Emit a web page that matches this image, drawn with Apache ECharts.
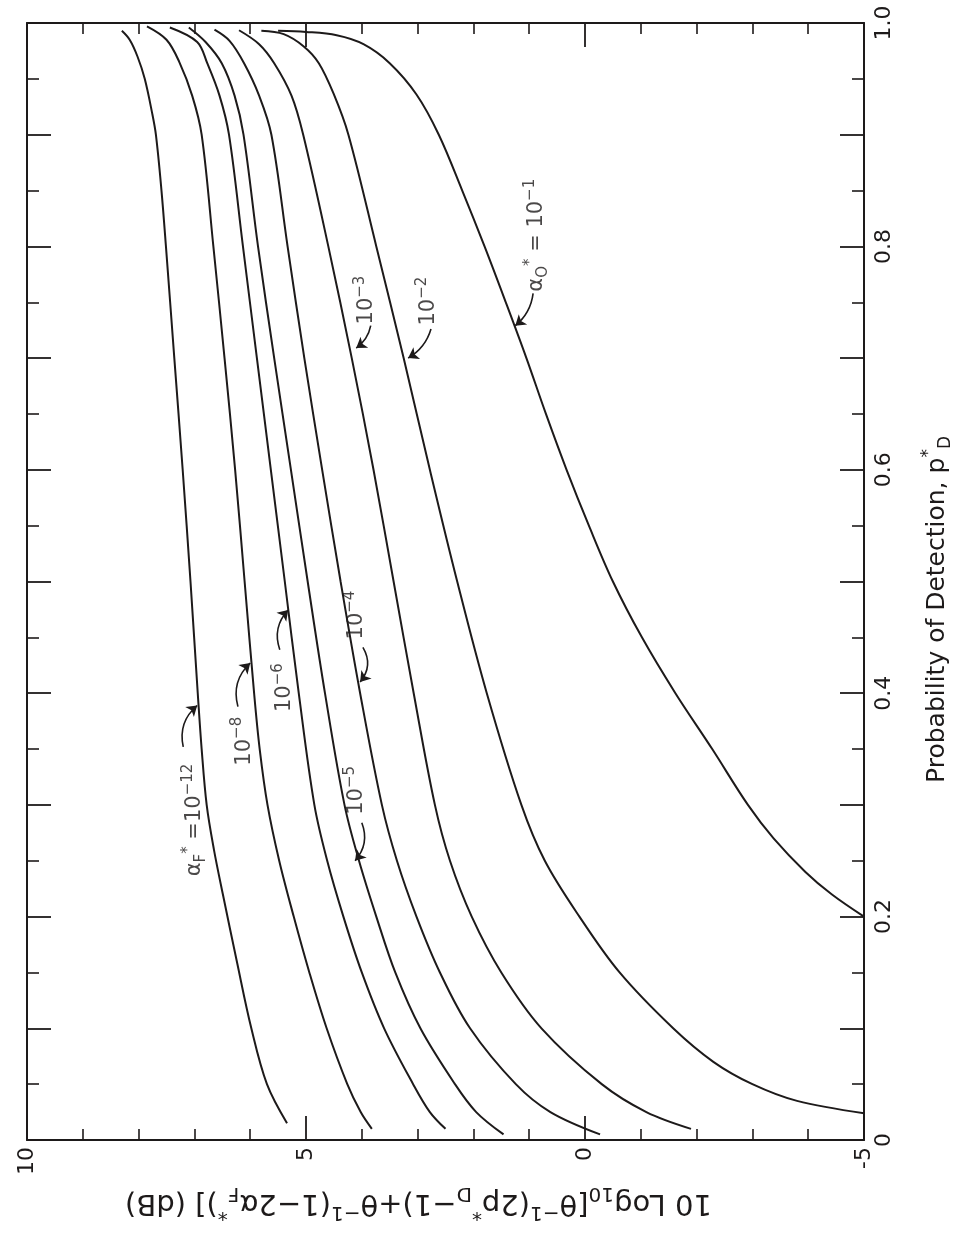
<!DOCTYPE html>
<html>
<head>
<meta charset="utf-8">
<script src="https://cdn.jsdelivr.net/npm/echarts@6/dist/echarts.min.js"></script>
<style>
  html, body { margin: 0; padding: 0; background: #fff; }
  #main { width: 969px; height: 1240px; }
</style>
</head>
<body>
<div id="main"></div>
<script>
// each curve: [pD*, dB], one per alpha value
const curveF12 = [[0.993, 8.30], [0.985, 8.16], [0.97, 8.02], [0.95, 7.89], [0.92, 7.76], [0.9, 7.69], [0.85, 7.59], [0.8, 7.51], [0.7, 7.36], [0.6, 7.21], [0.5, 7.07], [0.4, 6.94], [0.35, 6.87], [0.3, 6.78], [0.26, 6.65], [0.22, 6.49], [0.16, 6.24], [0.1, 5.98], [0.05, 5.7], [0.015, 5.34]]
const curveF8 = [[0.997, 7.85], [0.985, 7.5], [0.965, 7.27], [0.935, 7.04], [0.9, 6.87], [0.8, 6.66], [0.7, 6.46], [0.6, 6.27], [0.5, 6.1], [0.4, 5.93], [0.35, 5.83], [0.3, 5.69], [0.25, 5.48], [0.2, 5.22], [0.15, 4.94], [0.1, 4.63], [0.05, 4.26], [0.025, 4.02], [0.01, 3.82]]
const curveF6 = [[0.996, 7.44], [0.983, 6.95], [0.964, 6.77], [0.935, 6.55], [0.9, 6.38], [0.8, 6.13], [0.7, 5.88], [0.6, 5.63], [0.5, 5.38], [0.4, 5.13], [0.3, 4.85], [0.25, 4.62], [0.2, 4.33], [0.15, 4.0], [0.1, 3.6], [0.05, 3.08], [0.025, 2.78], [0.01, 2.5]]
const curveF5 = [[0.996, 7.1], [0.983, 6.8], [0.964, 6.51], [0.935, 6.28], [0.9, 6.12], [0.8, 5.86], [0.7, 5.57], [0.6, 5.27], [0.5, 4.97], [0.4, 4.66], [0.3, 4.31], [0.25, 4.05], [0.2, 3.74], [0.15, 3.4], [0.1, 2.95], [0.05, 2.33], [0.025, 1.95], [0.005, 1.46]]
const curveF4 = [[0.994, 6.64], [0.984, 6.37], [0.964, 6.11], [0.935, 5.84], [0.9, 5.62], [0.8, 5.33], [0.7, 5.03], [0.6, 4.71], [0.5, 4.38], [0.4, 4.03], [0.3, 3.64], [0.25, 3.37], [0.2, 3.02], [0.15, 2.6], [0.1, 2.06], [0.05, 1.24], [0.025, 0.62], [0.005, -0.27]]
const curveF3 = [[0.9935, 6.2], [0.981, 5.84], [0.964, 5.57], [0.935, 5.26], [0.9, 5.05], [0.8, 4.6], [0.7, 4.18], [0.6, 3.79], [0.5, 3.43], [0.4, 3.07], [0.3, 2.69], [0.25, 2.42], [0.2, 2.03], [0.15, 1.5], [0.1, 0.78], [0.05, -0.3], [0.025, -1.1], [0.01, -1.9]]
const curveF2 = [[0.993, 5.8], [0.99, 5.4], [0.979, 5.04], [0.964, 4.77], [0.936, 4.5], [0.9, 4.24], [0.8, 3.74], [0.7, 3.25], [0.6, 2.78], [0.5, 2.29], [0.4, 1.76], [0.3, 1.14], [0.25, 0.72], [0.2, 0.1], [0.15, -0.62], [0.1, -1.58], [0.07, -2.3], [0.05, -3.0], [0.035, -3.8], [0.024, -5]]
const curveF1 = [[0.993, 5.5], [0.992, 5.0], [0.989, 4.45], [0.981, 3.97], [0.964, 3.5], [0.936, 3.02], [0.9, 2.62], [0.85, 2.2], [0.8, 1.8], [0.75, 1.42], [0.7, 1.05], [0.65, 0.7], [0.6, 0.33], [0.55, -0.07], [0.5, -0.5], [0.45, -1.02], [0.4, -1.62], [0.35, -2.28], [0.3, -2.92], [0.27, -3.38], [0.24, -3.95], [0.22, -4.42], [0.2, -5]]

const curves = [curveF12, curveF8, curveF6, curveF5, curveF4, curveF3, curveF2, curveF1]

// tick labels
const dbTicks = [10, 5, 0, -5]
const pdTicks = ['0', '0.2', '0.4', '0.6', '0.8', '1.0']

// curve labels, anchored in data space [dB, pD]
const notePos = [[6.99, 0.2865], [6.11, 0.357], [5.38, 0.405], [4.09, 0.47], [4.09, 0.313], [3.91, 0.752], [2.81, 0.751], [0.86, 0.81]]
const noteText = [
  '{n|α}{sb|F}{sp|*}{n| =10}{sp|−12}',
  '{n|10}{sp|−8}',
  '{n|10}{sp|−6}',
  '{n|10}{sp|−4}',
  '{n|10}{sp|−5}',
  '{n|10}{sp|−3}',
  '{n|10}{sp|−2}',
  '{n|α}{sb|O}{sp|*}{n| = 10}{sp|−1}'
]
const arrowFrom = [[7.2, 0.352], [6.22, 0.388], [5.47, 0.439], [3.98, 0.441], [4.0, 0.284], [3.84, 0.729], [2.76, 0.726], [0.93, 0.758]]
const arrowTo = [[6.95, 0.389], [6.0, 0.427], [5.32, 0.4745], [4.03, 0.41], [4.12, 0.25], [4.1, 0.709], [3.17, 0.7], [1.25, 0.729]]
const arrowBend = [0.3, 0.3, 0.3, 0.35, 0.3, 0.2, 0.2, 0.2]

const ink = '#1d1a1a'
const font = '"DejaVu Sans", "Liberation Sans", sans-serif'

function richSet(size, small) {
  return {
    n: { fontSize: size, fontFamily: font, color: ink, lineHeight: Math.round(size * 1.35) },
    sp: { fontSize: small, fontFamily: font, color: ink, lineHeight: small, verticalAlign: 'top' },
    sb: { fontSize: small, fontFamily: font, color: ink, lineHeight: small, verticalAlign: 'bottom' }
  }
}

function dbAxis(pos, withLabels) {
  return {
    type: 'value',
    position: pos,
    min: -5,
    max: 10,
    interval: 5,
    inverse: true,
    axisLine: { show: true, onZero: false, lineStyle: { color: ink, width: 2 } },
    axisTick: { show: true, inside: true, length: 24, lineStyle: { color: ink, width: 1.8 } },
    minorTick: { show: true, splitNumber: 5, length: 11, lineStyle: { color: ink, width: 1.6 } },
    splitLine: { show: false },
    minorSplitLine: { show: false },
    axisLabel: {
      show: withLabels,
      rotate: 90,
      margin: 7,
      fontSize: 22,
      fontFamily: font,
      color: ink,
      formatter: v => (dbTicks.includes(v) ? String(v) : '')
    }
  }
}

function pdAxis(pos, withLabels) {
  return {
    type: 'value',
    position: pos,
    min: 0,
    max: 1,
    interval: 0.1,
    axisLine: { show: true, onZero: false, lineStyle: { color: ink, width: 2 } },
    axisTick: { show: true, inside: true, length: 24, lineStyle: { color: ink, width: 1.8 } },
    minorTick: { show: true, splitNumber: 2, length: 12, lineStyle: { color: ink, width: 1.6 } },
    splitLine: { show: false },
    minorSplitLine: { show: false },
    axisLabel: {
      show: withLabels,
      rotate: 90,
      margin: 9,
      fontSize: 22,
      fontFamily: font,
      color: ink,
      formatter: v => {
        const k = Math.round(v * 10)
        return k % 2 === 0 ? pdTicks[k / 2] : ''
      }
    }
  }
}

const xMain = dbAxis('bottom', true)
xMain.name = '{n|10 Log}{sb|10}{n|[θ}{sp|−1}{n|(2p}{sp|*}{sb|D}{n|−1)+θ}{sp|−1}{n|(1−2α}{sb|F}{sp|*}{n|)] (dB)}'
xMain.nameLocation = 'middle'
xMain.nameRotate = 180
xMain.nameGap = 40
xMain.nameTextStyle = { rich: richSet(29, 20), padding: [0, 0, 0, 54] }

const yMain = pdAxis('right', true)
yMain.name = '{n|Probability of Detection, p}{sp|*}{sb|D}'
yMain.nameLocation = 'middle'
yMain.nameRotate = 90
yMain.nameGap = 56
yMain.nameTextStyle = { rich: richSet(25, 17), padding: [0, 56, 0, 0] }

const series = curves.map(c => ({
  type: 'line',
  xAxisIndex: 0,
  yAxisIndex: 0,
  data: c.map(p => [p[1], p[0]]),
  symbol: 'none',
  smooth: 0.35,
  lineStyle: { color: ink, width: 2 },
  silent: true
}))

// curve labels
series.push({
  type: 'scatter',
  xAxisIndex: 0,
  yAxisIndex: 0,
  symbolSize: 1,
  itemStyle: { color: 'rgba(0,0,0,0)' },
  silent: true,
  data: notePos.map((p, i) => ({
    value: p,
    label: { formatter: noteText[i] }
  })),
  label: {
    show: true,
    position: 'inside',
    rotate: 90,
    align: 'center',
    verticalAlign: 'middle',
    rich: richSet(21, 15)
  },
  labelLayout: { hideOverlap: false }
})

// arrows from labels to curves
series.push({
  type: 'lines',
  coordinateSystem: 'cartesian2d',
  xAxisIndex: 0,
  yAxisIndex: 0,
  silent: true,
  symbol: ['none', 'arrow'],
  symbolSize: 10,
  lineStyle: { color: ink, width: 1.6, opacity: 1 },
  data: arrowFrom.map((a, i) => ({
    coords: [a, arrowTo[i]],
    lineStyle: { curveness: arrowBend[i] }
  }))
})

const chart = echarts.init(document.getElementById('main'))
chart.setOption({
  animation: false,
  backgroundColor: '#fff',
  grid: { left: 27, right: 105, top: 23, bottom: 100, containLabel: false, outerBoundsMode: 'none' },
  xAxis: [xMain, dbAxis('top', false)],
  yAxis: [yMain, pdAxis('left', false)],
  series: series
})
</script>
</body>
</html>
